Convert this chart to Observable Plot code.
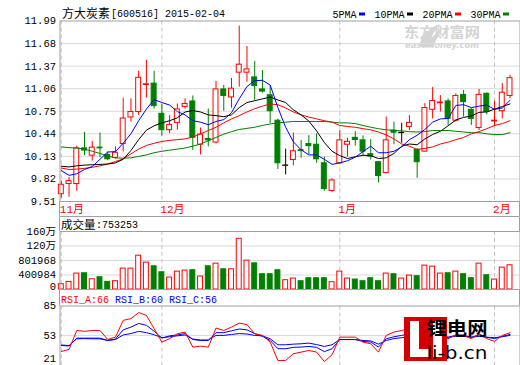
<!DOCTYPE html>
<html><head><meta charset="utf-8">
<script src="https://cdn.jsdelivr.net/npm/d3@7"></script>
<script src="https://cdn.jsdelivr.net/npm/@observablehq/plot@0.6"></script>
<style>
body{margin:0;background:#fff;}
#chart{position:relative;width:520px;height:365px;overflow:hidden;background:#fff;}
#chart svg{position:absolute;left:0;}
</style></head><body><div id="chart"></div>
<script>
// ---------- data ----------
const titleName = "方大炭素";
const titleCode = "[600516] 2015-02-04";
const openP  = [9.61,9.75,9.75,10.24,10.14,10.25,10.15,10.11,10.30,10.665,10.74,11.11,11.13,10.715,10.49,10.59,10.81,10.885,10.29,10.37,10.32,11.05,10.94,11.28,11.28,11.215,11.05,10.97,10.62,10.00,10.08,10.215,10.30,10.29,10.035,9.655,10.035,10.29,10.385,10.35,10.16,10.05,9.90,10.485,10.45,10.535,10.22,10.195,10.77,10.86,10.885,10.62,10.975,10.77,10.52,10.99,10.61,10.75,10.96];
const highP  = [9.79,9.84,10.27,10.46,10.335,10.45,10.19,10.26,10.93,10.92,11.30,11.45,11.30,10.85,10.69,10.85,10.92,10.96,10.52,10.78,11.16,11.105,11.20,11.92,11.64,11.435,11.31,11.095,10.64,10.23,10.45,10.35,10.415,10.44,10.12,9.82,10.485,10.38,10.47,10.41,10.36,10.06,10.67,10.60,10.585,10.69,10.235,10.855,11.075,10.965,10.92,10.99,11.035,10.785,11.05,11.00,10.885,11.13,11.245];
const lowP   = [9.555,9.57,9.65,10.14,10.065,10.11,10.07,10.09,10.19,10.60,10.69,10.93,10.78,10.41,10.44,10.49,10.78,10.21,10.15,10.26,10.30,10.75,10.79,11.08,11.15,10.90,11.00,10.58,9.95,9.875,10.00,10.105,10.15,10.035,9.65,9.635,10.025,10.12,10.27,10.14,10.08,9.765,9.89,10.29,10.31,10.485,9.83,10.19,10.645,10.74,10.555,10.60,10.67,10.555,10.485,10.70,10.54,10.645,10.92];
const closeP = [9.74,9.79,10.24,10.21,10.25,10.24,10.09,10.18,10.65,10.74,11.21,11.12,10.82,10.49,10.56,10.775,10.85,10.385,10.43,10.35,11.05,10.96,11.06,11.39,11.325,11.095,11.02,10.75,10.035,10.00,10.20,10.205,10.27,10.09,9.68,9.80,10.35,10.33,10.355,10.195,10.125,9.86,10.35,10.455,10.45,10.59,10.05,10.795,10.89,10.87,10.645,10.96,10.875,10.645,10.975,10.74,10.62,11.005,11.205];
const ma5  = [9.935,9.87,9.89,9.95,9.99,10.09,10.19,10.195,10.31,10.44,10.62,10.78,10.91,10.87,10.835,10.745,10.70,10.62,10.60,10.565,10.61,10.635,10.73,10.92,11.09,11.17,11.175,11.11,10.80,10.53,10.33,10.22,10.15,10.15,10.09,10.02,10.04,10.07,10.12,10.195,10.27,10.18,10.18,10.20,10.26,10.36,10.42,10.50,10.60,10.645,10.65,10.83,10.84,10.80,10.82,10.835,10.775,10.795,10.90];
const ma10 = [9.995,9.985,10.0,10.01,10.015,10.02,10.025,10.04,10.09,10.21,10.36,10.49,10.55,10.59,10.62,10.66,10.74,10.76,10.74,10.70,10.69,10.675,10.70,10.80,10.87,10.895,10.92,10.945,10.905,10.87,10.77,10.70,10.615,10.48,10.32,10.20,10.14,10.10,10.125,10.145,10.14,10.10,10.11,10.17,10.27,10.30,10.29,10.37,10.43,10.475,10.55,10.63,10.665,10.685,10.735,10.74,10.78,10.815,10.85];
const ma20 = [9.97,9.95,9.955,9.965,9.98,10.00,10.025,10.06,10.095,10.165,10.23,10.28,10.31,10.335,10.35,10.36,10.37,10.395,10.44,10.485,10.53,10.59,10.645,10.69,10.74,10.785,10.82,10.85,10.84,10.795,10.74,10.70,10.67,10.645,10.62,10.60,10.555,10.54,10.53,10.51,10.495,10.465,10.425,10.37,10.30,10.27,10.225,10.24,10.26,10.30,10.325,10.36,10.39,10.44,10.47,10.51,10.555,10.58,10.62];
const ma30 = [10.26,10.25,10.245,10.23,10.20,10.17,10.135,10.11,10.105,10.11,10.13,10.15,10.18,10.20,10.215,10.23,10.245,10.27,10.30,10.345,10.39,10.435,10.47,10.50,10.515,10.53,10.555,10.575,10.59,10.60,10.61,10.61,10.61,10.61,10.61,10.60,10.59,10.59,10.58,10.555,10.53,10.51,10.495,10.487,10.48,10.47,10.465,10.47,10.485,10.485,10.485,10.475,10.465,10.455,10.455,10.44,10.43,10.43,10.455];
const volume = [147000,211000,440000,449000,284000,339000,211000,229000,578000,578000,935000,743000,642000,477000,330000,495000,523000,532000,358000,642000,715000,559000,559000,1403000,798000,724000,422000,422000,532000,257000,303000,229000,312000,312000,312000,202000,495000,303000,275000,229000,312000,229000,440000,422000,303000,385000,367000,660000,633000,440000,449000,495000,422000,312000,715000,394000,275000,605000,670000];
const volHeader = "753253";
const rsiA = [35.5,37.7,58.4,57.4,58.4,58.4,48.6,51.1,69.4,71.2,77.8,74.8,60.3,45.7,49.4,54.8,56.6,40.2,41.3,40.2,61,58.4,62,66.4,64.7,54.8,53,45.7,25.7,25.7,33,34.8,36.6,34.8,24.6,31.9,51.1,51.1,51.1,45.7,43.9,34.8,53,56.6,58.4,60.3,40.2,53,57.4,53.7,49.4,53.7,53,49.4,54.8,49.4,46.5,53,55.9];
const rsiB = [42,41.5,50,50,50,50,47.5,49,59,62,66,64,57.5,50,52.5,53.5,55,48.5,47.5,47.5,56,56,58,60,59,55,52,47.5,38.5,38.5,40,40.3,41,40,35.3,38.5,48.5,48.5,48.5,46.4,45.7,40.3,49.3,51.5,53,54.5,47,51.5,54.5,53.5,51,53,53,51,53.5,51,49.5,52,54];
const rsiC = [42.5,42,49.3,49.5,49.3,49.3,47.5,48.5,53.5,55,57.4,56,53.7,50.5,51.5,52.5,53.5,49,48,48,53,53,54,55,54.5,53,52.5,49.3,42.8,42.8,43.5,43.9,44.6,43,41,42.8,48.5,48.5,48.5,47.5,47,43.5,47.5,49.5,50.5,51.5,48.5,50.5,52,52,51,52,52,51,52,51,50.5,51.5,53];
const rsiHeader = [["RSI_A:66","#ff0000"],["RSI_B:60","#0000ff"],["RSI_C:56","#0000ff"]];
const priceTicks = [9.51,9.82,10.13,10.44,10.75,11.06,11.37,11.68,11.99];
const monthIdx = [0,13,36,56];
const monthLabels = ["11月","12月","1月","2月"];
const volTicks = [0,400984,801968,1202952,1603936];
const volTickLabels = ["0","400984","801968","120万","160万"];
const rsiTicks = [21,53,85];
const legendNames = ["5PMA","10PMA","20PMA","30PMA"];
const legendColors = ["#0000ff","#000000","#ff0000","#008000"];

// ---------- styling ----------
const RED="#ff0000", GREEN="#008000", BLUE="#0000ff", BLACK="#000000";
const GRID="#d9d9d9", FRAME="#a0a0a0", DASH="#c4c4c4";
const FONT="'Liberation Mono','Noto Sans CJK SC',monospace";
const CJK="'Noto Sans CJK SC',sans-serif";
const X_RANGE=[60.8,509.5];
const ML=59.5, MR=0.5;

const candles = openP.map((o,i)=>({i,o,h:highP[i],l:lowP[i],c:closeP[i]}));
const colorOf = d => d.c>d.o ? RED : d.c<d.o ? GREEN : BLACK;
const vols = volume.map((v,i)=>({i,v,up: closeP[i]>=openP[i]}));
const half = 0.32;

const chart = document.getElementById("chart");
function place(svg, top){ svg.style.top = top+"px"; chart.appendChild(svg); }
function line(svg,x1,y1,x2,y2,stroke){ d3.select(svg).append("line").attr("x1",x1).attr("y1",y1).attr("x2",x2).attr("y2",y2).attr("stroke",stroke).attr("stroke-width",1); }
const baseStyle = {fontFamily:FONT,fontSize:"10px",background:"transparent",overflow:"visible"};

// ---------- price panel ----------
const legendOffsets = [272.5,314.5,362.5,410.5];
const p1 = Plot.plot({
  width:520,height:217,marginLeft:ML,marginRight:MR,marginTop:20.5,marginBottom:16,
  x:{domain:[0,58],range:X_RANGE,axis:null},
  y:{domain:[9.51,11.99],range:[201,20.5],axis:null},
  color:{type:"identity"},
  style:baseStyle,
  marks:[
    Plot.ruleY(priceTicks.slice(1,-1),{stroke:GRID}),
    Plot.ruleX(monthIdx,{stroke:DASH,strokeDasharray:"4,3"}),
    Plot.ruleX(candles,{x:"i",y1:"l",y2:"h",stroke:colorOf,strokeWidth:1}),
    Plot.rect(candles,{x1:d=>d.i-half,x2:d=>d.i+half,y1:d=>d.o,
      y2:d=>Math.abs(d.c-d.o)<0.004?d.o+0.004:d.c,
      fill:d=>d.c<d.o?GREEN:"#ffffff",stroke:colorOf,strokeWidth:1}),
    Plot.lineY(ma30,{x:(d,i)=>i,y:d=>d,stroke:GREEN,strokeWidth:1}),
    Plot.lineY(ma20,{x:(d,i)=>i,y:d=>d,stroke:RED,strokeWidth:1}),
    Plot.lineY(ma10,{x:(d,i)=>i,y:d=>d,stroke:BLACK,strokeWidth:1}),
    Plot.lineY(ma5,{x:(d,i)=>i,y:d=>d,stroke:BLUE,strokeWidth:1}),
    Plot.frame({stroke:FRAME}),
    Plot.text(priceTicks,{y:d=>d,text:d=>d.toFixed(2),frameAnchor:"left",dx:-4,textAnchor:"end",fontSize:10.5}),
    Plot.text(monthIdx,{x:d=>d,text:(d,i)=>monthLabels[i],frameAnchor:"bottom",dy:7.5,dx:-1.5,textAnchor:"start",lineAnchor:"middle",fill:RED,fontSize:11}),
    Plot.text([titleName],{frameAnchor:"top-left",dx:2,dy:-7,lineAnchor:"middle",fontFamily:CJK,fontSize:12}),
    Plot.text([titleCode],{frameAnchor:"top-left",dx:51,dy:-7,lineAnchor:"middle",fontSize:10}),
    ...legendNames.map((n,k)=>Plot.text([n],{frameAnchor:"top-left",dx:legendOffsets[k],dy:-6.5,lineAnchor:"middle",fontSize:10}))
  ]
});
// outer frame of the month strip
line(p1,ML,201,ML,216.5,FRAME); line(p1,519.5,201,519.5,216.5,FRAME); line(p1,ML,216.5,519.5,216.5,FRAME);
// legend swatches
legendColors.forEach((c,k)=>{
  const x = ML+legendOffsets[k]+legendNames[k].length*6+3;
  d3.select(p1).append("rect").attr("x",x).attr("y",12.5).attr("width",6).attr("height",3).attr("fill",c);
});
// eastmoney watermark
{
  const g = d3.select(p1).insert("g",":first-child").attr("fill","#d4d4d4");
  g.append("path").attr("d","M419,47 C421,36 428,28 440,24 C434,31 430,38 428,47 Z M425,47 C430,39 435,33 441,30 C438,36 435,42 433,47 Z");
  g.append("text").attr("x",442).attr("y",37).attr("font-family",CJK).attr("font-weight","bold").attr("font-size",14).attr("textLength",76).attr("lengthAdjust","spacingAndGlyphs").text("东方财富网");
  g.append("text").attr("x",442).attr("y",48).attr("font-family","DejaVu Sans").attr("font-weight","bold").attr("font-style","italic").attr("font-size",9).attr("textLength",74).attr("lengthAdjust","spacingAndGlyphs").text("eastmoney.com");
}
place(p1,0);

// ---------- volume panel ----------
const p2 = Plot.plot({
  width:520,height:72,marginLeft:ML,marginRight:MR,marginTop:14,marginBottom:0,
  x:{domain:[0,58],range:X_RANGE,axis:null},
  y:{domain:[0,volTicks[4]],range:[72,14],axis:null},
  color:{type:"identity"},
  style:baseStyle,
  marks:[
    Plot.ruleY(volTicks.slice(1,4),{stroke:GRID}),
    Plot.ruleX(monthIdx,{stroke:DASH,strokeDasharray:"4,3"}),
    Plot.rect(vols,{x1:d=>d.i-half,x2:d=>d.i+half,y1:()=>0,y2:"v",
      fill:d=>d.up?"#ffffff":GREEN,stroke:d=>d.up?RED:GREEN,strokeWidth:1}),
    Plot.frame({stroke:FRAME}),
    Plot.text(volTicks.slice(1),{y:d=>d,text:(d,i)=>volTickLabels[i+1],frameAnchor:"left",dx:-4,textAnchor:"end",fontSize:10.5}),
    Plot.text([0],{y:d=>d,text:()=>volTickLabels[0],frameAnchor:"left",dx:-4,textAnchor:"end",lineAnchor:"bottom",fontSize:10.5}),
    Plot.text(["成交量"],{frameAnchor:"top-left",dx:1,dy:-6.5,lineAnchor:"middle",fontFamily:CJK,fontSize:11.5}),
    Plot.text([":"+volHeader],{frameAnchor:"top-left",dx:36,dy:-6.5,lineAnchor:"middle",fontSize:10})
  ]
});
line(p2,ML,0,ML,14,FRAME); line(p2,519.5,0,519.5,14,FRAME);
place(p2,217);

// ---------- RSI panel ----------
const p3 = Plot.plot({
  width:520,height:76,marginLeft:ML,marginRight:MR,marginTop:16.5,marginBottom:0,
  x:{domain:[0,58],range:X_RANGE,axis:null},
  y:{domain:[21,85],range:[75.3,16.5],axis:null},
  color:{type:"identity"},
  style:baseStyle,
  marks:[
    Plot.ruleY([53],{stroke:GRID}),
    Plot.ruleX(monthIdx,{stroke:DASH,strokeDasharray:"4,3"}),
    Plot.lineY(rsiC,{x:(d,i)=>i,y:d=>d,stroke:BLUE,strokeWidth:1}),
    Plot.lineY(rsiB,{x:(d,i)=>i,y:d=>d,stroke:BLUE,strokeWidth:1}),
    Plot.lineY(rsiA,{x:(d,i)=>i,y:d=>d,stroke:RED,strokeWidth:1}),
    Plot.frame({stroke:FRAME}),
    Plot.text(rsiTicks.slice(1),{y:d=>d,text:d=>String(d),frameAnchor:"left",dx:-4,textAnchor:"end",fontSize:10.5}),
    Plot.text(rsiTicks.slice(0,1),{y:d=>d,text:d=>String(d),frameAnchor:"left",dx:-4,dy:-3,textAnchor:"end",lineAnchor:"bottom",fontSize:10.5}),
    ...rsiHeader.map(([t,c],k)=>Plot.text([t],{frameAnchor:"top-left",dx:1+k*54,dy:-6.5,lineAnchor:"middle",fill:c,fontSize:10}))
  ]
});
line(p3,ML,0,ML,16.5,FRAME); line(p3,519.5,0,519.5,16.5,FRAME);
// li-b.cn logo
{
  const T=289, g=d3.select(p3).append("g");
  g.append("rect").attr("x",404).attr("y",317-T).attr("width",43).attr("height",44).attr("fill","#d40000");
  g.append("rect").attr("x",410).attr("y",321-T).attr("width",9).attr("height",36).attr("fill","#fff");
  g.append("rect").attr("x",410).attr("y",349-T).attr("width",19).attr("height",8).attr("fill","#fff");
  g.append("rect").attr("x",433).attr("y",321-T).attr("width",9).attr("height",36).attr("fill","#fff");
  g.append("text").attr("x",457).attr("y",335-T).attr("font-family",CJK).attr("font-weight","bold").attr("font-size",18).attr("textLength",61).attr("lengthAdjust","spacingAndGlyphs").text("锂电网");
  g.append("text").attr("x",457).attr("y",359-T).attr("font-family","DejaVu Sans").attr("font-size",18).attr("textLength",61).attr("lengthAdjust","spacingAndGlyphs").text("li-b.cn");
}
place(p3,289);
</script></body></html>
